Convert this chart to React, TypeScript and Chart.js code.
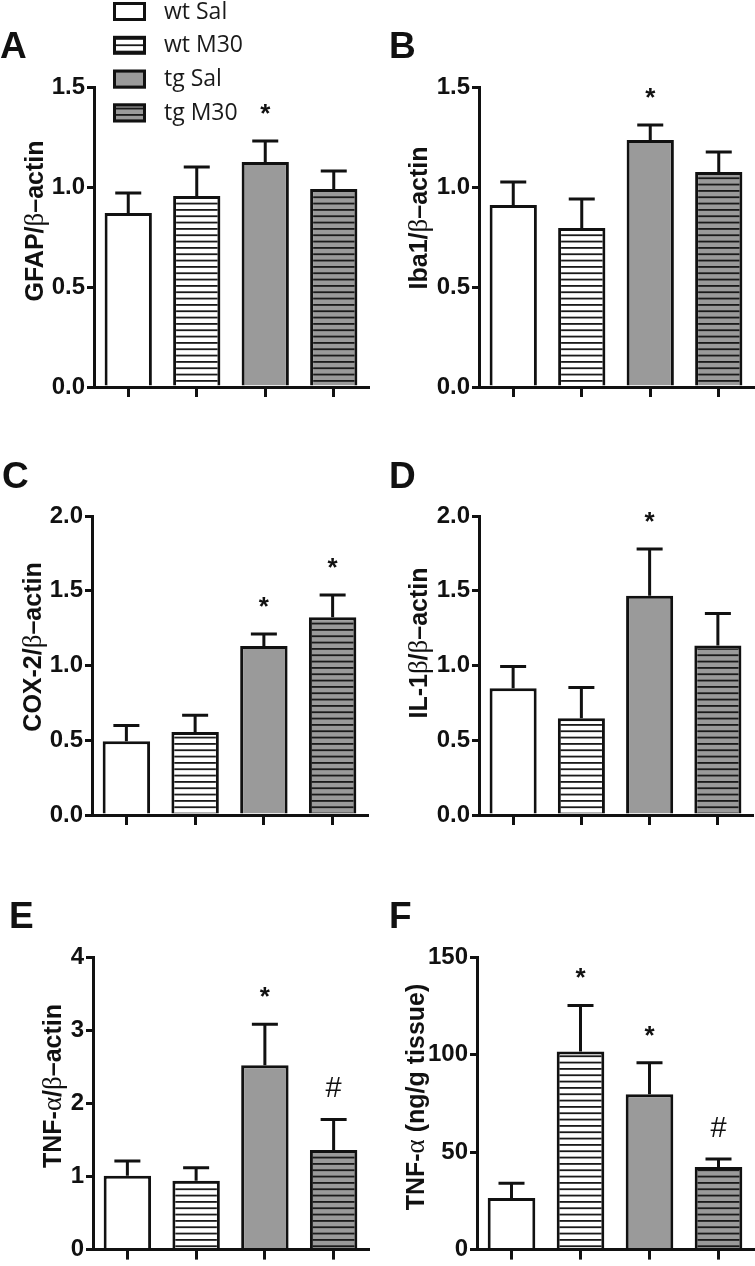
import React, { useEffect, useRef } from "react";
import { Chart, registerables } from "chart.js";
Chart.register(...registerables);

// ---------- data ----------
const groups = ["wt Sal", "wt M30", "tg Sal", "tg M30"];

const gfapMean = [0.87, 0.955, 1.125, 0.99];
const gfapSem = [0.1, 0.145, 0.105, 0.09];
const gfapMarks = ["", "", "*", ""];

const iba1Mean = [0.91, 0.795, 1.235, 1.075];
const iba1Sem = [0.115, 0.145, 0.075, 0.1];
const iba1Marks = ["", "", "*", ""];

const cox2Mean = [0.493, 0.555, 1.131, 1.322];
const cox2Sem = [0.105, 0.112, 0.08, 0.149];
const cox2Marks = ["", "", "*", "*"];

const il1bMean = [0.847, 0.647, 1.467, 1.133];
const il1bSem = [0.146, 0.206, 0.313, 0.214];
const il1bMarks = ["", "", "*", ""];

const tnfRelMean = [1.01, 0.94, 2.52, 1.36];
const tnfRelSem = [0.2, 0.18, 0.56, 0.42];
const tnfRelMarks = ["", "", "*", "#"];

const tnfConcMean = [26.5, 101.6, 79.7, 42.3];
const tnfConcSem = [7.5, 23.6, 16.1, 4.2];
const tnfConcMarks = ["", "*", "*", "#"];

const ticksAB = [0, 0.5, 1.0, 1.5];
const ticksCD = [0, 0.5, 1.0, 1.5, 2.0];
const ticksE = [0, 1, 2, 3, 4];
const ticksF = [0, 50, 100, 150];

// ---------- layout / style ----------
type Panel = {
  letter: string;
  title: string;
  means: number[];
  sems: number[];
  marks: string[];
  ticks: number[];
  decimals: number;
  canvas: { x: number; y: number; w: number; h: number };
  yWidth: number;
  pad: { top: number; right: number; bottom: number };
  letterPos: { x: number; y: number };
  titlePos: { x: number; y: number };
  legend?: boolean;
};

const panels: Panel[] = [
  {
    letter: "A", title: "GFAP/β–actin", means: gfapMean, sems: gfapSem, marks: gfapMarks,
    ticks: ticksAB, decimals: 1,
    canvas: { x: 0, y: 0, w: 377, h: 420 }, yWidth: 94, pad: { top: 87, right: 9, bottom: 22 },
    letterPos: { x: 0, y: 58 }, titlePos: { x: 34, y: 221 }, legend: true,
  },
  {
    letter: "B", title: "Iba1/β–actin", means: iba1Mean, sems: iba1Sem, marks: iba1Marks,
    ticks: ticksAB, decimals: 1,
    canvas: { x: 377, y: 0, w: 378, h: 420 }, yWidth: 102, pad: { top: 87, right: 2, bottom: 22 },
    letterPos: { x: 12, y: 58 }, titlePos: { x: 41, y: 218 },
  },
  {
    letter: "C", title: "COX-2/β–actin", means: cox2Mean, sems: cox2Sem, marks: cox2Marks,
    ticks: ticksCD, decimals: 1,
    canvas: { x: 0, y: 420, w: 377, h: 420 }, yWidth: 92, pad: { top: 96, right: 10, bottom: 14 },
    letterPos: { x: 2, y: 68 }, titlePos: { x: 32, y: 227 },
  },
  {
    letter: "D", title: "IL-1β/β–actin", means: il1bMean, sems: il1bSem, marks: il1bMarks,
    ticks: ticksCD, decimals: 1,
    canvas: { x: 377, y: 420, w: 378, h: 420 }, yWidth: 102, pad: { top: 96, right: 3, bottom: 14 },
    letterPos: { x: 12, y: 68 }, titlePos: { x: 41, y: 223 },
  },
  {
    letter: "E", title: "TNF-α/β–actin", means: tnfRelMean, sems: tnfRelSem, marks: tnfRelMarks,
    ticks: ticksE, decimals: 0,
    canvas: { x: 0, y: 840, w: 377, h: 426 }, yWidth: 93, pad: { top: 117, right: 9, bottom: 0 },
    letterPos: { x: 9, y: 88 }, titlePos: { x: 52, y: 246 },
  },
  {
    letter: "F", title: "TNF-α (ng/g tissue)", means: tnfConcMean, sems: tnfConcSem, marks: tnfConcMarks,
    ticks: ticksF, decimals: 0,
    canvas: { x: 377, y: 840, w: 378, h: 426 }, yWidth: 100, pad: { top: 117, right: 2, bottom: 0 },
    letterPos: { x: 12, y: 88 }, titlePos: { x: 38, y: 257 },
  },
];

const GRAY = "#9a9a9a";
const SANS = "'Liberation Sans', Arial, sans-serif";
const SERIF = "'Liberation Serif', 'Times New Roman', serif";

function stripePattern(ctx: CanvasRenderingContext2D, bg: string, line: string) {
  const c = document.createElement("canvas");
  c.width = 4;
  c.height = 19;
  const g = c.getContext("2d")!;
  g.fillStyle = bg;
  g.fillRect(0, 0, 4, 19);
  g.fillStyle = line;
  for (let k = 0; k < 3; k++) g.fillRect(0, k * (19 / 3), 4, 1.8);
  return ctx.createPattern(c, "repeat")!;
}

function fillsFor(ctx: CanvasRenderingContext2D) {
  return [
    "#ffffff",
    stripePattern(ctx, "#ffffff", "#1a1a1a"),
    GRAY,
    stripePattern(ctx, GRAY, "#1a1a1a"),
  ];
}

function drawMixedRotated(ctx: CanvasRenderingContext2D, text: string, cx: number, cy: number) {
  const runs: { t: string; greek: boolean }[] = [];
  for (const ch of text) {
    const greek = /[α-ωΑ-Ω]/.test(ch);
    if (runs.length && runs[runs.length - 1].greek === greek) runs[runs.length - 1].t += ch;
    else runs.push({ t: ch, greek });
  }
  const fontOf = (g: boolean) => (g ? `27px ${SERIF}` : `bold 25px ${SANS}`);
  let total = 0;
  const widths = runs.map((r) => {
    ctx.font = fontOf(r.greek);
    const w = ctx.measureText(r.t).width;
    total += w;
    return w;
  });
  ctx.save();
  ctx.translate(cx, cy);
  ctx.rotate(-Math.PI / 2);
  ctx.fillStyle = "#111";
  ctx.textBaseline = "alphabetic";
  ctx.textAlign = "left";
  let x = -total / 2;
  runs.forEach((r, i) => {
    ctx.font = fontOf(r.greek);
    ctx.fillText(r.t, x, 9);
    x += widths[i];
  });
  ctx.restore();
}

function PanelChart({ p }: { p: Panel }) {
  const ref = useRef<HTMLCanvasElement>(null);
  useEffect(() => {
    const canvas = ref.current!;
    const ctx = canvas.getContext("2d")!;
    const fills = fillsFor(ctx);
    const overlay = {
      id: "overlay",
      afterDatasetsDraw(chart: any) {
        const c = chart.ctx as CanvasRenderingContext2D;
        const meta = chart.getDatasetMeta(0);
        const ys = chart.scales.y;
        meta.data.forEach((bar: any, i: number) => {
          const x = bar.x;
          const top = ys.getPixelForValue(p.means[i]);
          const et = ys.getPixelForValue(p.means[i] + p.sems[i]);
          c.save();
          c.strokeStyle = "#111";
          c.lineWidth = 3;
          c.beginPath();
          c.moveTo(x, top);
          c.lineTo(x, et);
          c.moveTo(x - 13, et);
          c.lineTo(x + 13, et);
          c.stroke();
          const m = p.marks[i];
          if (m) {
            c.font = m === "*" ? `bold 26px ${SANS}` : `29px ${SANS}`;
            c.fillStyle = "#111";
            c.textAlign = "center";
            c.textBaseline = "alphabetic";
            const mt = c.measureText(m);
            const asc = mt.actualBoundingBoxAscent;
            const desc = mt.actualBoundingBoxDescent;
            const cy = et - 32;
            c.fillText(m, x, cy + (asc - desc) / 2);
          }
          c.restore();
        });
      },
      afterDraw(chart: any) {
        const c = chart.ctx as CanvasRenderingContext2D;
        c.save();
        c.fillStyle = "#111";
        c.font = `bold 37px ${SANS}`;
        c.textAlign = "left";
        c.textBaseline = "alphabetic";
        c.fillText(p.letter, p.letterPos.x, p.letterPos.y);
        c.restore();
        drawMixedRotated(c, p.title, p.titlePos.x, p.titlePos.y);
        if (p.legend) {
          groups.forEach((g, i) => {
            const top = 2 + i * 33.8;
            c.save();
            c.fillStyle = fills[i] as any;
            c.fillRect(113, top, 33, 19);
            c.strokeStyle = "#111";
            c.lineWidth = 3;
            c.strokeRect(114.5, top + 1.5, 30, 16);
            c.fillStyle = "#1a1a1a";
            c.font = `23px 'Open Sans', sans-serif`;
            c.textAlign = "left";
            c.textBaseline = "middle";
            c.fillText(g, 164, top + 10);
            c.restore();
          });
        }
      },
    };
    const maxV = p.ticks[p.ticks.length - 1];
    const chart = new Chart(ctx, {
      type: "bar",
      data: {
        labels: groups,
        datasets: [
          {
            data: p.means,
            backgroundColor: fills as any,
            borderColor: "#111",
            borderWidth: 3,
            categoryPercentage: 1,
            barPercentage: 0.69,
          },
        ],
      },
      options: {
        animation: false,
        responsive: false,
        maintainAspectRatio: false,
        devicePixelRatio: 1,
        layout: { padding: { left: 0, top: p.pad.top, right: p.pad.right, bottom: p.pad.bottom } },
        plugins: { legend: { display: false }, tooltip: { enabled: false }, title: { display: false } },
        scales: {
          x: {
            type: "category",
            offset: true,
            grid: {
              offset: false,
              drawOnChartArea: false,
              drawTicks: true,
              tickLength: 10,
              lineWidth: 3,
              color: "#111",
            },
            border: { display: true, color: "#111", width: 3 },
            ticks: { display: false },
            afterFit: (s: any) => {
              s.height = 11;
            },
          },
          y: {
            min: 0,
            max: maxV,
            afterBuildTicks: (s: any) => {
              s.ticks = p.ticks.map((v) => ({ value: v }));
            },
            grid: {
              drawOnChartArea: false,
              drawTicks: true,
              tickLength: 7,
              lineWidth: 3,
              color: "#111",
            },
            border: { display: true, color: "#111", width: 3 },
            ticks: {
              padding: 2,
              color: "#111",
              font: { family: SANS, size: 24, weight: "bold" },
              callback: (v: any) => Number(v).toFixed(p.decimals),
            },
            afterFit: (s: any) => {
              s.width = p.yWidth;
            },
          },
        },
      },
      plugins: [overlay],
    });
    return () => chart.destroy();
  }, [p]);
  return (
    <canvas
      ref={ref}
      width={p.canvas.w}
      height={p.canvas.h}
      style={{ position: "absolute", left: p.canvas.x, top: p.canvas.y, width: p.canvas.w, height: p.canvas.h }}
    />
  );
}

export default function App() {
  return (
    <div style={{ position: "absolute", left: 0, top: 0, width: 755, height: 1266, background: "#fff", overflow: "hidden" }}>
      {panels.map((p) => (
        <PanelChart key={p.letter} p={p} />
      ))}
    </div>
  );
}
